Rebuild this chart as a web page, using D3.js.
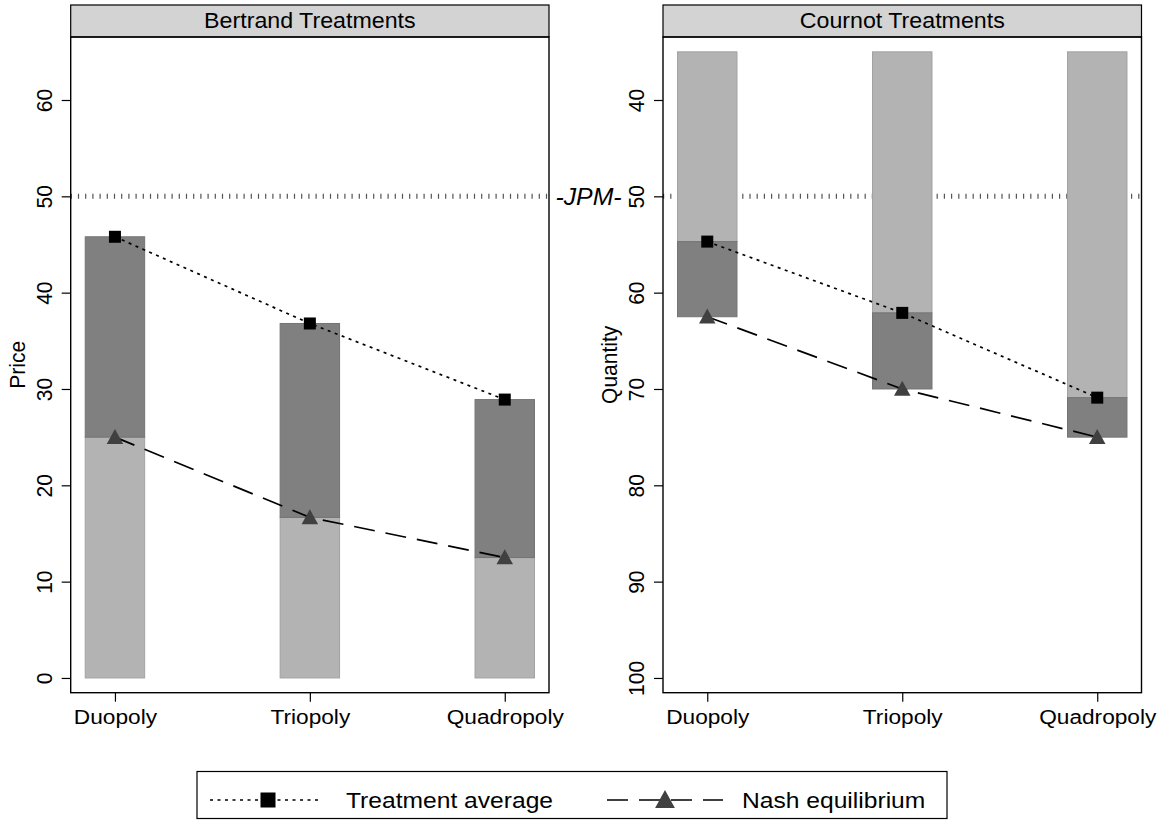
<!DOCTYPE html>
<html><head><meta charset="utf-8">
<script src="https://cdn.jsdelivr.net/npm/d3@7"></script>
<style>
body{margin:0;background:#fff}
svg{display:block}
text{font-family:"Liberation Sans",Arial,Helvetica,sans-serif;fill:#000}
</style>
</head><body>
<svg id="chart" width="1166" height="825"></svg>
<script>
// ---- data ----
const categories = ["Duopoly", "Triopoly", "Quadropoly"];
const bertrandAverage = [45.8, 36.8, 28.9];
const bertrandNash = [25, 16.67, 12.5];
const bertrandBase = 0;
const cournotAverage = [54.7, 62.1, 70.9];
const cournotNash = [62.5, 70, 75];
const cournotBase = 35;
const bertrandTicks = [0, 10, 20, 30, 40, 50, 60];
const cournotTicks = [40, 50, 60, 70, 80, 90, 100];
const jpmLevel = 50;
const jpmLabel = "-JPM-";
const panelTitles = ["Bertrand Treatments", "Cournot Treatments"];
const axisTitles = ["Price", "Quantity"];
const legendLabels = ["Treatment average", "Nash equilibrium"];

// ---- layout ----
const W = 1166, H = 825;
const stripTop = 5, plotTop = 37, plotBottom = 692.7;
const FS = 21, SX = 1.08;
const LIGHT = "#b3b3b3", DARK = "#808080", TRI = "#404040";

const svg = d3.select("#chart");
svg.append("rect").attr("width", W).attr("height", H).attr("fill", "#fff");

function txt(g, x, y, s, o = {}) {
  const t = g.append("text")
    .attr("transform", `translate(${x},${y}) scale(${o.sx || SX},1) rotate(${o.rot || 0})`)
    .attr("text-anchor", o.anchor || "middle")
    .attr("font-size", o.size || FS)
    .text(s);
  if (o.italic) t.attr("font-style", "italic");
  if (o.dy) t.attr("dy", o.dy);
  return t;
}

const panels = [
  {x0: 70.7, x1: 549, title: panelTitles[0], ytitle: axisTitles[0], ticks: bertrandTicks,
   domain: [-1.53, 66.54], reversed: false, base: bertrandBase, avg: bertrandAverage, nash: bertrandNash},
  {x0: 663, x1: 1141.5, title: panelTitles[1], ytitle: axisTitles[1], ticks: cournotTicks,
   domain: [33.46, 101.53], reversed: true, base: cournotBase, avg: cournotAverage, nash: cournotNash}
];

const triPath = (s) => `M0,${-s*0.55}L${s*0.55},${s*0.45}L${-s*0.55},${s*0.45}Z`;

panels.forEach((p, pi) => {
  const g = svg.append("g");
  const x = d3.scalePoint().domain(categories).range([p.x0, p.x1]).padding(0.227);
  const y = d3.scaleLinear().domain(p.domain)
    .range(p.reversed ? [plotTop, plotBottom] : [plotBottom, plotTop]);
  const bw = x.step() * 0.305;

  // strip
  g.append("rect").attr("x", p.x0).attr("y", stripTop).attr("width", p.x1 - p.x0)
    .attr("height", plotTop - stripTop).attr("fill", "#d3d3d3").attr("stroke", "#000").attr("stroke-width", 1.2);
  txt(g, (p.x0 + p.x1) / 2, 27.5, p.title, {size: 21.5});

  // JPM line (under bars)
  g.append("line").attr("x1", p.x0).attr("x2", p.x1)
    .attr("y1", y(jpmLevel)).attr("y2", y(jpmLevel))
    .attr("stroke", "#555").attr("stroke-width", 5).attr("stroke-dasharray", "1.2,6");

  // bars
  categories.forEach((c, i) => {
    const avg = p.avg[i], nash = p.nash[i];
    const lightEnd = pi === 0 ? nash : avg;
    const darkA = pi === 0 ? nash : avg;
    const darkB = pi === 0 ? avg : nash;
    const ly0 = y(p.base), ly1 = y(lightEnd);
    g.append("rect").attr("x", x(c) - bw / 2).attr("width", bw)
      .attr("y", Math.min(ly0, ly1)).attr("height", Math.abs(ly1 - ly0))
      .attr("fill", LIGHT).attr("stroke", "#a2a2a2").attr("stroke-width", 1);
    const dy0 = y(darkA), dy1 = y(darkB);
    g.append("rect").attr("x", x(c) - bw / 2).attr("width", bw)
      .attr("y", Math.min(dy0, dy1)).attr("height", Math.abs(dy1 - dy0))
      .attr("fill", DARK).attr("stroke", "#747474").attr("stroke-width", 1);
  });

  // lines
  const line = d3.line().x((d, i) => x(categories[i])).y(d => y(d));
  g.append("path").attr("d", line(p.avg)).attr("fill", "none").attr("stroke", "#000")
    .attr("stroke-width", 1.7).attr("stroke-dasharray", "3,4.5");
  g.append("path").attr("d", line(p.nash)).attr("fill", "none").attr("stroke", "#000")
    .attr("stroke-width", 1.7).attr("stroke-dasharray", "21,11");

  // markers
  p.nash.forEach((v, i) => {
    g.append("path").attr("d", triPath(15)).attr("fill", TRI)
      .attr("transform", `translate(${x(categories[i])},${y(v)})`);
  });
  p.avg.forEach((v, i) => {
    g.append("rect").attr("x", x(categories[i]) - 6).attr("y", y(v) - 6)
      .attr("width", 12).attr("height", 12).attr("fill", "#000");
  });

  // frame
  g.append("rect").attr("x", p.x0).attr("y", plotTop).attr("width", p.x1 - p.x0)
    .attr("height", plotBottom - plotTop).attr("fill", "none").attr("stroke", "#000").attr("stroke-width", 1.4);

  // y axis
  const ya = g.append("g").attr("transform", `translate(${p.x0},0)`)
    .call(d3.axisLeft(y).tickValues(p.ticks).tickSize(9).tickFormat(d3.format("d")));
  ya.select(".domain").remove();
  ya.selectAll(".tick line").attr("stroke", "#000").attr("stroke-width", 1.2);
  ya.selectAll(".tick text").remove();
  ya.selectAll(".tick").each(function(d) {
    txt(d3.select(this), -27, 0, d3.format("d")(d), {rot: -90, dy: "0.36em"});
  });
  txt(g, p.x0 - 54, (plotTop + plotBottom) / 2, p.ytitle, {rot: -90, dy: "0.36em"});

  // x axis
  const xa = g.append("g").attr("transform", `translate(0,${plotBottom})`)
    .call(d3.axisBottom(x).tickSize(9));
  xa.select(".domain").remove();
  xa.selectAll(".tick line").attr("stroke", "#000").attr("stroke-width", 1.2);
  xa.selectAll(".tick text").remove();
  xa.selectAll(".tick").each(function(d) {
    txt(d3.select(this), 0, 31.5, d);
  });

  if (pi === 0) {
    txt(svg, 588.5, y(jpmLevel) + 8.5, jpmLabel, {italic: true, size: 23});
  }
});

// ---- legend ----
const lg = svg.append("g");
lg.append("rect").attr("x", 197).attr("y", 771.5).attr("width", 750).attr("height", 47)
  .attr("fill", "#fff").attr("stroke", "#000").attr("stroke-width", 1.2);
const ly = 800;
lg.append("line").attr("x1", 210).attr("x2", 322).attr("y1", ly).attr("y2", ly)
  .attr("stroke", "#000").attr("stroke-width", 1.7).attr("stroke-dasharray", "3,4.5");
lg.append("rect").attr("x", 268 - 7.5).attr("y", ly - 7.5).attr("width", 15).attr("height", 15).attr("fill", "#000");
txt(lg, 346, 807.5, legendLabels[0], {anchor: "start", size: 22.8});
lg.append("line").attr("x1", 607).attr("x2", 723).attr("y1", ly).attr("y2", ly)
  .attr("stroke", "#000").attr("stroke-width", 1.7).attr("stroke-dasharray", "21,11");
lg.append("path").attr("d", triPath(18)).attr("fill", TRI).attr("transform", `translate(665,${ly})`);
txt(lg, 742, 807.5, legendLabels[1], {anchor: "start", size: 22.8});
</script>
</body></html>
